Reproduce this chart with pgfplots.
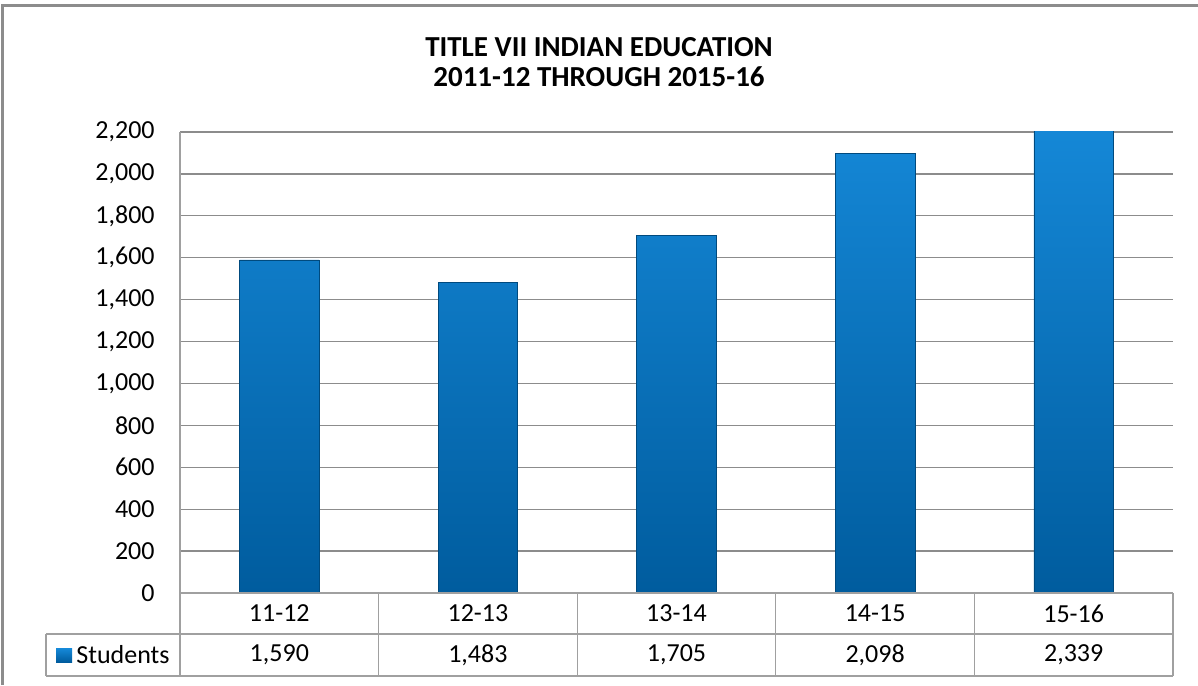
\documentclass[border=0pt]{standalone}
\usepackage{pgfplots}
\pgfplotsset{compat=1.18}
\usepackage{fontspec}
\setmainfont{Carlito}
\definecolor{gridgray}{RGB}{140,140,140}
\definecolor{tabgray}{RGB}{160,160,160}
\definecolor{bartop}{RGB}{22,138,218}
\definecolor{barbot}{RGB}{0,92,158}
\begin{document}
\begin{tikzpicture}[x=0.5pt,y=0.5pt]
\path[use as bounding box] (0,0) rectangle (1198,685);
% outer frame
\draw[gridgray, line width=1.5pt] (2,0) -- (2,679) -- (1198,679);
% title
\node[font=\fontsize{14.5}{15}\selectfont\bfseries, align=center] at (599,623) {TITLE VII INDIAN EDUCATION\\2011-12 THROUGH 2015-16};
\begin{axis}[
  at={(90pt,46pt)}, anchor=south west,
  scale only axis, width=496.5pt, height=230.5pt,
  xmin=-0.5, xmax=4.5, ymin=0, ymax=2200,
  ytick={0,200,...,2200},
  xtick=\empty,
  ymajorgrids, grid style={gridgray, line width=0.6pt},
  major tick length=0pt,
  axis x line=none,
  axis y line*=left,
  y axis line style={tabgray, line width=0.6pt, -},
  yticklabel style={font=\fontsize{13}{13}\selectfont, inner sep=0pt, xshift=-12.5pt, anchor=east},
  /pgf/number format/.cd, 1000 sep={,}, assume math mode=true,
]
\addplot[ybar, bar width=0.4, draw=barbot!80!black, line width=0.3pt, top color=bartop, bottom color=barbot]
  coordinates {(0,1590) (1,1483) (2,1705) (3,2098) (4,2339)};
\end{axis}
% data table
\draw[tabgray, line width=0.6pt] (180,92) -- (1173,92);
\draw[tabgray, line width=0.6pt] (46,51) -- (1173,51);
\draw[tabgray, line width=0.6pt] (46,9) -- (1173,9);
\draw[tabgray, line width=0.6pt] (46,51) -- (46,9);
\foreach \xx in {180,378.6,577.2,775.8,974.4,1173} {
  \draw[tabgray, line width=0.6pt] (\xx,92) -- (\xx,9);
}
\begin{scope}[every node/.style={font=\fontsize{13}{13}\selectfont}]
\node at (279.3,71.5) {11-12};
\node at (477.9,71.5) {12-13};
\node at (676.5,71.5) {13-14};
\node at (875.1,71.5) {14-15};
\node at (1073.7,71.5) {15-16};
\node at (279.3,30) {1,590};
\node at (477.9,30) {1,483};
\node at (676.5,30) {1,705};
\node at (875.1,30) {2,098};
\node at (1073.7,30) {2,339};
\shade[top color=bartop, bottom color=barbot] (56,23) rectangle (72,37);
\node[anchor=west, inner sep=0pt] at (76,30) {Students};
\end{scope}
\end{tikzpicture}
\end{document}
